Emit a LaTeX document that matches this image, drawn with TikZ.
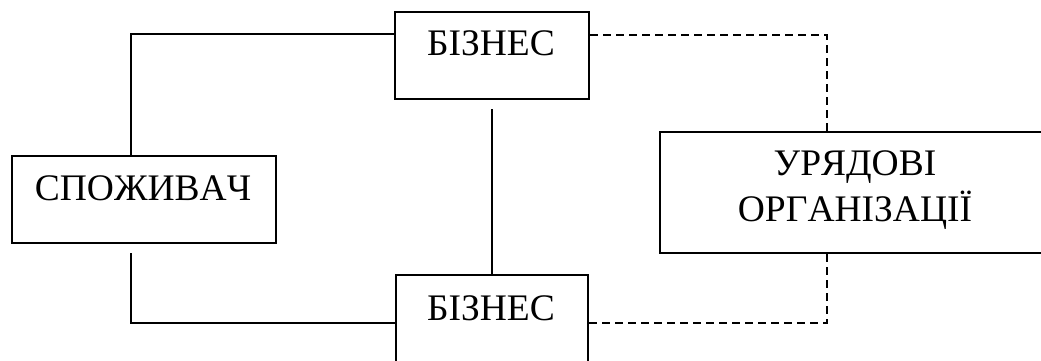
\documentclass[tikz,border=0pt]{standalone}
\usepackage{fontspec}
\setmainfont[Kerning=Off]{Liberation Serif}
\usetikzlibrary{calc}
\begin{document}
\begin{tikzpicture}[x=1pt,y=-1pt,
  box/.style={draw, line width=2.1pt, inner sep=0pt, anchor=north west},
  lbl/.style={font=\fontsize{37.5}{46}\selectfont, anchor=base, inner sep=0pt},
  link/.style={line width=2.1pt},
  dlink/.style={line width=2.1pt, dash pattern=on 8pt off 5pt}]
\useasboundingbox (0,0) rectangle (1041,361);
\clip (0,0) rectangle (1041,361);
\node[box, minimum width=194pt, minimum height=87pt] (b1) at (394,11) {};
\node[box, minimum width=264pt, minimum height=87pt] (c) at (11,155) {};
\node[box, minimum width=192pt, minimum height=92pt] (b2) at (395,274) {};
\node[box, minimum width=392pt, minimum height=121pt] (g) at (659,131) {};
\node[lbl] (t1) at (491,56) {БІЗНЕС};
\node[lbl] (tc) at (143,200) {СПОЖИВАЧ};
\node[lbl] (t2) at (491,320) {БІЗНЕС};
\node[lbl] (tg1) at (855,175) {УРЯДОВІ};
\node[lbl] (tg2) at (855,221) {ОРГАНІЗАЦІЇ};
\draw[link] ($(c.north west)+(120,0)$) |- ($(b1.north west)+(0,23)$);
\draw[link] ($(c.south west)+(120,9)$) |- ($(b2.north west)+(0,49)$);
\draw[link] ($(b1.south)+(0,9)$) -- (b2.north);
\draw[dlink] ($(b1.north east)+(0,24)$) -| ($(g.north west)+(168,0)$);
\draw[dlink] ($(b2.north east)+(0,49)$) -| ($(g.south west)+(168,0)$);
\end{tikzpicture}
\end{document}
